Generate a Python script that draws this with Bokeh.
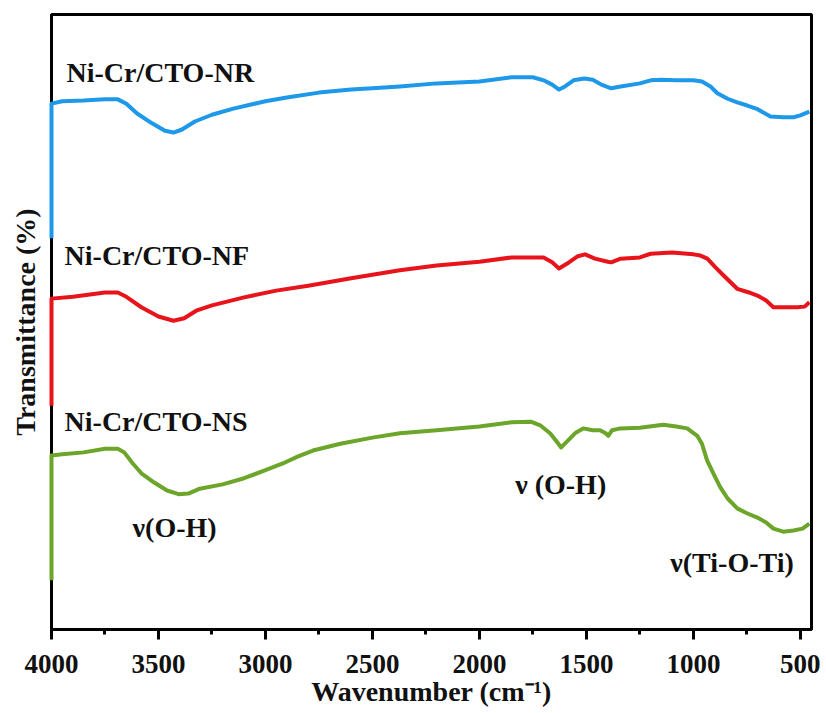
from bokeh.plotting import figure
from bokeh.models import Range1d, SingleIntervalTicker, FixedTicker
from bokeh.core.properties import value
from bokeh.embed import file_html
from bokeh.resources import INLINE

# ---- data (wavenumber cm^-1, transmittance a.u.) ----
wn_nr = [4000, 4000, 3950, 3850, 3750, 3690, 3650, 3600, 3530, 3470, 3430, 3390, 3330, 3250, 3150,
         3000, 2900, 2750, 2600, 2500, 2372, 2200, 2000, 1850, 1750, 1700, 1660, 1628, 1600, 1560,
         1510, 1470, 1430, 1384, 1340, 1250, 1200, 1150, 1080, 1040, 1000, 960, 920, 888, 840,
         795, 748, 700, 640, 580, 532, 500, 458]
t_nr = [63.6, 85.5, 85.9, 86.0, 86.2, 86.2, 85.5, 83.9, 82.3, 81.1, 80.8, 81.3, 82.6, 83.7, 84.7,
        85.9, 86.5, 87.3, 87.8, 88.0, 88.3, 88.8, 89.1, 89.8, 89.8, 89.3, 88.6, 87.8, 88.3, 89.3,
        89.6, 89.4, 88.6, 88.0, 88.3, 88.8, 89.3, 89.4, 89.3, 89.3, 89.3, 89.1, 88.3, 87.2, 86.3,
        85.7, 85.2, 84.6, 83.4, 83.3, 83.3, 83.6, 84.2]

wn_nf = [4000, 4000, 3900, 3750, 3690, 3650, 3580, 3500, 3430, 3380, 3320, 3250, 3100, 2950, 2800,
         2600, 2372, 2200, 2000, 1850, 1700, 1660, 1628, 1590, 1540, 1506, 1460, 1400, 1384, 1340,
         1250, 1200, 1100, 1000, 967, 935, 900, 860, 795, 740, 701, 660, 626, 580, 514, 480, 458]
t_nf = [36.4, 53.8, 54.1, 54.8, 54.8, 54.1, 52.4, 50.9, 50.2, 50.6, 51.9, 52.7, 54.0, 55.1, 55.9,
        57.1, 58.4, 59.2, 59.8, 60.5, 60.5, 59.7, 58.7, 59.5, 60.7, 61.0, 60.3, 59.8, 59.7, 60.3,
        60.5, 61.1, 61.3, 61.0, 60.8, 60.3, 59.0, 57.6, 55.4, 54.8, 54.3, 53.5, 52.4, 52.4, 52.4,
        52.5, 53.2]

wn_ns = [4000, 4000, 3950, 3850, 3750, 3690, 3660, 3620, 3580, 3520, 3460, 3406, 3360, 3307, 3200,
         3100, 3000, 2919, 2850, 2778, 2650, 2500, 2372, 2200, 2000, 1850, 1760, 1716, 1670, 1640,
         1618, 1590, 1550, 1515, 1470, 1436, 1410, 1398, 1380, 1342, 1250, 1141, 1080, 1029, 982,
         960, 936, 900, 874, 840, 795, 750, 701, 660, 626, 580, 532, 490, 458]
t_ns = [8.0, 28.3, 28.5, 28.8, 29.4, 29.4, 28.8, 27.0, 25.4, 23.9, 22.6, 22.0, 22.1, 22.9, 23.6,
        24.6, 25.9, 27.0, 28.1, 29.1, 30.2, 31.2, 31.9, 32.4, 33.0, 33.7, 33.8, 33.2, 31.9, 30.6,
        29.6, 30.6, 32.0, 32.7, 32.4, 32.4, 31.9, 31.5, 32.4, 32.7, 32.8, 33.3, 33.0, 32.7, 31.5,
        30.2, 27.5, 24.9, 23.1, 21.3, 19.7, 18.9, 18.2, 17.4, 16.4, 15.9, 16.1, 16.4, 17.2]

series_names = ["Ni-Cr/CTO-NR", "Ni-Cr/CTO-NF", "Ni-Cr/CTO-NS"]
series_colors = ["#1E98E8", "#E8141B", "#6BA52A"]

band_labels = ["\u03bd(O-H)", "\u03bd (O-H)", "\u03bd(Ti-O-Ti)"]

x_ticks_interval = 500

FONT = "Liberation Serif"
TXT = "#111111"

p = figure(width=822, height=711, output_backend="svg", toolbar_location=None,
           x_range=Range1d(4000, 448), y_range=Range1d(0, 100),
           min_border_left=51, min_border_right=11, min_border_top=14, min_border_bottom=82)

p.xgrid.visible = False
p.ygrid.visible = False
p.outline_line_color = "black"
p.outline_line_width = 3
p.background_fill_color = "white"
p.border_fill_color = "white"

# x axis
xa = p.xaxis[0]
xa.ticker = SingleIntervalTicker(interval=x_ticks_interval, num_minor_ticks=2)
xa.axis_line_width = 3
xa.axis_line_color = "black"
xa.major_tick_line_color = "black"
xa.major_tick_line_width = 3
xa.major_tick_out = 10
xa.major_tick_in = 0
xa.minor_tick_line_color = "black"
xa.minor_tick_line_width = 3
xa.minor_tick_out = 5
xa.minor_tick_in = 0
xa.major_label_text_font = FONT
xa.major_label_text_font_style = "bold"
xa.major_label_text_font_size = "27px"
xa.major_label_text_color = TXT
xa.major_label_standoff = 15
xa.axis_label = "Wavenumber (cm\u207b\u00b9)"
xa.axis_label_text_font = FONT
xa.axis_label_text_font_style = "bold"
xa.axis_label_text_font_size = "28px"
xa.axis_label_text_color = TXT
xa.axis_label_standoff = 0

# y axis
ya = p.yaxis[0]
ya.ticker = FixedTicker(ticks=[])
ya.axis_line_width = 3
ya.axis_line_color = "black"
ya.major_tick_out = 0
ya.major_tick_in = 0
ya.minor_tick_out = 0
ya.minor_tick_in = 0
ya.major_label_standoff = 0
ya.major_label_text_font_size = "0px"
ya.axis_label = "Transmittance (%)"
ya.axis_label_text_font = FONT
ya.axis_label_text_font_style = "bold"
ya.axis_label_text_font_size = "28px"
ya.axis_label_text_color = TXT
ya.axis_label_standoff = 11

for xs, ys, c in zip([wn_nr, wn_nf, wn_ns], [t_nr, t_nf, t_ns], series_colors):
    p.line(xs, ys, line_color=c, line_width=4, line_join="round", level="overlay")

# series names
name_x = [3930, 3939, 3939]
name_y = [90.6, 60.8, 33.8]
p.text(x=name_x, y=name_y, text=series_names, text_font=value(FONT), text_font_style="bold",
       text_font_size="28px", text_color=TXT, text_align="left", text_baseline="middle")

# band assignments
band_x = [3621, 1833, 1108]
band_y = [16.6, 23.6, 10.9]
p.text(x=band_x, y=band_y, text=band_labels, text_font=value(FONT), text_font_style="bold",
       text_font_size="28px", text_color=TXT, text_align="left", text_baseline="middle")

open("out.html", "w").write(file_html(p, INLINE))
